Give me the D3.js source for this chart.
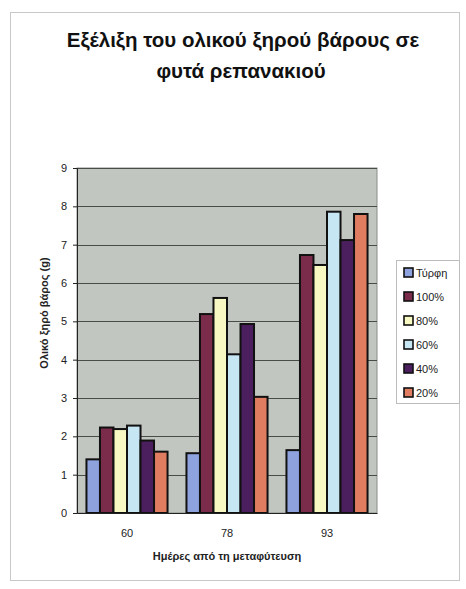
<!DOCTYPE html>
<html>
<head>
<meta charset="utf-8">
<script src="https://cdn.jsdelivr.net/npm/d3@7"></script>
<style>
  html, body { margin: 0; padding: 0; background: #fff; }
  svg text { font-family: "Liberation Sans", Arial, sans-serif; }
</style>
</head>
<body>
<svg id="chart" width="466" height="589"></svg>
<script>
// Days after transplanting
const categories = ["60", "78", "93"];
// Treatments (legend order)
const seriesNames = ["Τύρφη", "100%", "80%", "60%", "40%", "20%"];
// Total dry weight (g) per treatment, one value per category
const turfi  = [1.40, 1.56, 1.64];
const p100   = [2.23, 5.19, 6.73];
const p80    = [2.19, 5.61, 6.47];
const p60    = [2.28, 4.14, 7.86];
const p40    = [1.89, 4.93, 7.12];
const p20    = [1.60, 3.03, 7.80];
const yTicks = [0, 1, 2, 3, 4, 5, 6, 7, 8, 9];
const seriesColors = ["#8ea2de", "#7b2c4a", "#f8f8c2", "#c6e6f4", "#4b1e5e", "#e07c60"];

const seriesValues = [turfi, p100, p80, p60, p40, p20];

const svg = d3.select("#chart");

// outer chart frame
svg.append("rect")
  .attr("x", 10.5).attr("y", 12.5).attr("width", 449).attr("height", 568)
  .attr("fill", "none").attr("stroke", "#c8c8c8").attr("stroke-width", 1);

// title
const title = svg.append("text")
  .attr("text-anchor", "middle")
  .attr("font-size", 20.5).attr("font-weight", "bold").attr("fill", "#111");
title.append("tspan").attr("x", 243).attr("y", 47).text("Εξέλιξη του ολικού ξηρού βάρους σε");
title.append("tspan").attr("x", 241).attr("y", 78).text("φυτά ρεπανακιού");

const plot = { left: 77, right: 377, top: 168, bottom: 513 };

const x0 = d3.scaleBand().domain(categories)
  .range([plot.left, plot.right]).paddingInner(0).paddingOuter(0);
const x1 = d3.scaleBand().domain(seriesNames)
  .range([0, x0.bandwidth()]).paddingInner(0).paddingOuter(0.7);
const y = d3.scaleLinear().domain([0, 9]).range([plot.bottom, plot.top]);

// plot area background
svg.append("rect")
  .attr("x", plot.left).attr("y", plot.top)
  .attr("width", plot.right - plot.left).attr("height", plot.bottom - plot.top)
  .attr("fill", "#c2c6c0").attr("stroke", "#8a8e8a").attr("stroke-width", 1);

// gridlines
svg.append("g")
  .selectAll("line")
  .data(yTicks.filter(t => t > 0))
  .join("line")
  .attr("x1", plot.left).attr("x2", plot.right)
  .attr("y1", d => Math.round(y(d)) + 0.5).attr("y2", d => Math.round(y(d)) + 0.5)
  .attr("stroke", "#4a4c4a").attr("stroke-width", 1);

// bars
const rows = categories.map((c, i) => ({
  cat: c,
  vals: seriesNames.map((s, j) => ({ name: s, value: seriesValues[j][i], color: seriesColors[j] }))
}));

svg.append("g")
  .selectAll("g")
  .data(rows)
  .join("g")
  .attr("transform", d => `translate(${x0(d.cat)},0)`)
  .selectAll("rect")
  .data(d => d.vals)
  .join("rect")
  .attr("x", d => x1(d.name))
  .attr("y", d => y(d.value))
  .attr("width", x1.bandwidth())
  .attr("height", d => y(0) - y(d.value))
  .attr("fill", d => d.color)
  .attr("stroke", "#111")
  .attr("stroke-width", 2);

// y axis
const yAxis = svg.append("g")
  .attr("transform", `translate(${plot.left},0)`)
  .call(d3.axisLeft(y).tickValues(yTicks).tickSize(4).tickPadding(6).tickFormat(d3.format("d")));
yAxis.select(".domain").attr("stroke", "#222");
yAxis.selectAll(".tick line").attr("stroke", "#222");
yAxis.selectAll("text").attr("font-size", 11).attr("fill", "#222")
  .attr("font-family", "'Liberation Sans', Arial, sans-serif");

// x axis
const xAxis = svg.append("g")
  .attr("transform", `translate(0,${plot.bottom})`)
  .call(d3.axisBottom(x0).tickSize(0).tickPadding(16));
xAxis.select(".domain").attr("stroke", "#222");
xAxis.selectAll("text").attr("font-size", 11).attr("fill", "#222")
  .attr("font-family", "'Liberation Sans', Arial, sans-serif");

// axis titles
svg.append("text")
  .attr("transform", "translate(48,313) rotate(-90)")
  .attr("text-anchor", "middle")
  .attr("font-size", 11).attr("font-weight", "bold").attr("fill", "#222")
  .text("Ολικό ξηρό βάρος (g)");

svg.append("text")
  .attr("x", 227).attr("y", 560)
  .attr("text-anchor", "middle")
  .attr("font-size", 11).attr("font-weight", "bold").attr("fill", "#222")
  .text("Ημέρες από τη μεταφύτευση");

// legend
const legend = svg.append("g").attr("transform", "translate(396,260)");
legend.append("rect")
  .attr("x", 0.5).attr("y", 0.5).attr("width", 63).attr("height", 143)
  .attr("fill", "#fff").attr("stroke", "#bdbdbd");
const items = legend.selectAll("g")
  .data(seriesNames)
  .join("g")
  .attr("transform", (d, i) => `translate(8,${13 + i * 24})`);
items.append("rect")
  .attr("x", 0).attr("y", -5).attr("width", 9).attr("height", 9)
  .attr("fill", (d, i) => seriesColors[i]).attr("stroke", "#111").attr("stroke-width", 1.6);
items.append("text")
  .attr("x", 12).attr("y", 4)
  .attr("font-size", 11).attr("fill", "#222")
  .text(d => d);
</script>
</body>
</html>
